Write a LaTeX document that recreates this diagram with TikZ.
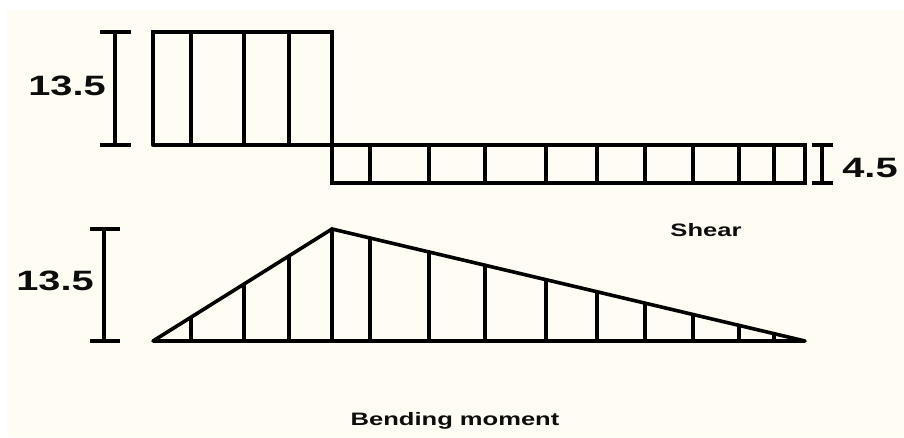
\documentclass[tikz,border=0pt]{standalone}
\usepackage{fontspec}
\usepackage{graphicx}
\setmainfont{Liberation Sans}
\usetikzlibrary{calc}
\definecolor{cream}{RGB}{255,252,243}
\newcommand{\widetext}[2]{\scalebox{1.42}[1]{\fontsize{#1}{#1}\selectfont\bfseries #2}}
\tikzset{
  diag/.style={line width=3.6pt, line cap=round, line join=miter},
  tri/.style={line width=3.6pt, line cap=round, line join=round},
  dimline/.style={line width=3.2pt},
  lbl/.style={anchor=base, inner sep=0pt, text=black!95}
}
\begin{document}
\begin{tikzpicture}[x=1pt, y=-1pt]
  \useasboundingbox (0,0) rectangle (904,437);
  \fill[white] (0,0) rectangle (904,437);
  \fill[cream] (7,10) rectangle (904,437);

  % key points
  \coordinate (s1) at (153,32);
  \coordinate (s2) at (332,32);
  \coordinate (s3) at (332,145);
  \coordinate (s4) at (153,145);
  \coordinate (b1) at (332,183);
  \coordinate (b2) at (805,183);
  \coordinate (b3) at (805,145);
  \coordinate (m0) at (153,341);
  \coordinate (mA) at (332,229);
  \coordinate (mE) at (805,341);

  % shear diagram
  \draw[diag] (s4) -- (s1) -- (s2) -- (b1) -- (b2) -- (b3) -- (s4);
  \foreach \x in {191,244,289} \draw[diag] (\x,32) -- (\x,145);
  \foreach \x in {370,429,485,546,597,645,693,739,774} \draw[diag] (\x,145) -- (\x,183);

  % bending moment
  \draw[tri] (m0) -- (mA) -- (mE) -- cycle;
  \foreach \x in {191,244,289} {
    \pgfmathsetmacro{\t}{(\x-153)/179}
    \draw[diag] (\x,341) -- ($(m0)!\t!(mA)$);
  }
  \draw[diag] (mA) -- (332,341);
  \foreach \x in {370,429,485,546,597,645,693,739,774} {
    \pgfmathsetmacro{\t}{(\x-332)/473}
    \draw[diag] (\x,341) -- ($(mA)!\t!(mE)$);
  }

  % dimension bars
  \draw[dimline] (100,32) -- (131,32) (115,32) -- (115,145) (100,145) -- (131,145);
  \draw[dimline] (812,145) -- (833,145) (822,145) -- (822,183) (812,183) -- (833,183);
  \draw[dimline] (90,229) -- (120,229) (104,229) -- (104,341) (90,341) -- (120,341);

  % labels
  \node[lbl] (v1) at (67,95) {\widetext{28}{13.5}};
  \node[lbl] (v2) at (870,177) {\widetext{28}{4.5}};
  \node[lbl] (v3) at (55,290) {\widetext{28}{13.5}};
  \node[lbl] (sh) at (706,236) {\widetext{18}{Shear}};
  \node[lbl] (bm) at (455,425) {\widetext{18}{Bending moment}};
\end{tikzpicture}
\end{document}
